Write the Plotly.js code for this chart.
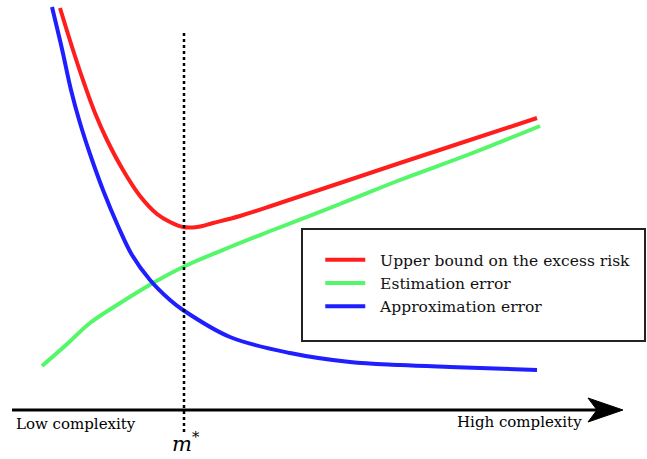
<!DOCTYPE html>
<html><head><meta charset="utf-8">
<script src="https://cdn.plot.ly/plotly-3.0.1.min.js"></script>
<style>html,body{margin:0;padding:0;background:#fff}</style>
</head><body><div id="plot" style="width:647px;height:459px"></div>
<script>
// complexity (x) and error level (y)
var redX  = [60, 73, 84, 95, 107, 123, 140, 157, 170, 183, 197, 213, 240, 280, 400, 470, 537];
var redY  = [451, 409, 376, 346, 319, 289, 263, 245, 237, 232, 232, 236, 243, 256, 296, 319, 341];
var greenX = [42, 66, 90, 117, 153, 183, 230, 273, 340, 400, 470, 540];
var greenY = [93, 114, 136, 154, 176, 192, 212, 229, 255, 279, 305, 333];
var blueX = [52, 62, 71, 80, 90, 103, 118, 132, 150, 170, 183, 230, 290, 350, 400, 450, 537];
var blueY = [452, 410, 369, 336, 305, 269, 233, 204, 179, 159, 149, 122, 106, 97, 94, 92, 89];
var names = ["\u00a0\u00a0Upper bound on the excess risk", "\u00a0\u00a0Estimation error", "\u00a0\u00a0Approximation error"];
var colors = ["#ff1e1e", "#55f76a", "#1e1eff"];
var mStar = 184;
var axisLevel = 49;

var serif = "DejaVu Serif, Liberation Serif, serif";
var traces = [
  {x: redX, y: redY, name: names[0]},
  {x: greenX, y: greenY, name: names[1]},
  {x: blueX, y: blueY, name: names[2]}
].map(function(t, i){
  t.type = 'scatter'; t.mode = 'lines';
  t.line = {color: colors[i], width: 4, shape: 'spline', smoothing: 1};
  return t;
});

var layout = {
  width: 647, height: 459,
  margin: {l:0, r:0, t:0, b:0},
  paper_bgcolor: '#fff', plot_bgcolor: '#fff',
  xaxis: {range: [0, 647], visible: false, fixedrange: true},
  yaxis: {range: [0, 459], visible: false, fixedrange: true},
  showlegend: true,
  legend: {x: 0.495, y: 0.47, xanchor: 'left', yanchor: 'top',
           bgcolor: 'rgba(0,0,0,0)', borderwidth: 0,
           font: {family: serif, size: 15.5, color: '#111'},
           tracegroupgap: 0, itemwidth: 40},
  shapes: [
    {type: 'rect', xref: 'x', yref: 'y', x0: 302, x1: 645, y0: 118, y1: 230,
     line: {color: '#222', width: 2}, fillcolor: 'rgba(0,0,0,0)', layer: 'below'},
    {type: 'line', xref: 'x', yref: 'y', x0: mStar, x1: mStar, y0: 27, y1: 429,
     line: {color: '#000', width: 2.5, dash: 'dot'}},
    {type: 'line', xref: 'x', yref: 'y', x0: 12, x1: 600, y0: axisLevel, y1: axisLevel,
     line: {color: '#000', width: 3}},
    {type: 'path', xref: 'x', yref: 'y',
     path: 'M588,' + (axisLevel+12) + ' L623,' + axisLevel + ' L588,' + (axisLevel-12) + ' L597,' + axisLevel + ' Z',
     fillcolor: '#000', line: {color: '#000', width: 1}}
  ],
  annotations: [
    {xref: 'x', yref: 'y', x: 14, y: 35, xanchor: 'left', yanchor: 'middle', showarrow: false,
     text: 'Low complexity', font: {family: serif, size: 15, color: '#000'}},
    {xref: 'x', yref: 'y', x: 584, y: 37, xanchor: 'right', yanchor: 'middle', showarrow: false,
     text: 'High complexity', font: {family: serif, size: 15, color: '#000'}},
    {xref: 'x', yref: 'y', x: mStar + 2, y: 17, xanchor: 'center', yanchor: 'middle', showarrow: false,
     text: '<i>m</i><sup>*</sup>', font: {family: serif, size: 21, color: '#000'}}
  ]
};
Plotly.newPlot('plot', traces, layout, {displayModeBar: false, staticPlot: true});
</script></body></html>
